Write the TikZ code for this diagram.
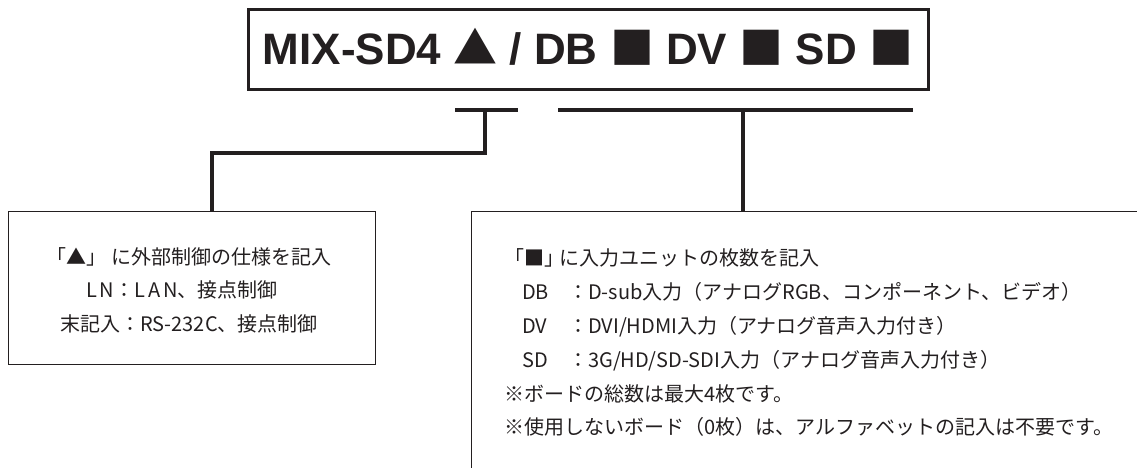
\documentclass[tikz,border=0pt]{standalone}
\usepackage{fontspec}
\setmainfont{Noto Sans CJK JP}
\newfontfamily\codefont{Liberation Sans}
\newfontfamily\jpfont{Noto Sans CJK JP}
\usetikzlibrary{positioning}

\definecolor{ink}{HTML}{231F20}
\newcommand{\tracked}[1]{{\addfontfeature{LetterSpace=15}#1}}
\newcommand{\unitrow}[2]{\makebox[46pt][l]{#1}：#2}
\newcommand{\codemark}[1]{{\jpfont\fontsize{44}{50}\selectfont #1}}

\tikzset{
  codebox/.style={draw=ink, line width=3pt, minimum width=680pt, minimum height=80pt,
    text=ink, text height=30pt, text depth=0pt,
    font=\codefont\fontsize{44}{50}\selectfont\bfseries},
  infobox/.style={draw=ink, line width=1.4pt, anchor=north west},
  bar/.style={draw=ink, line width=3.5pt},
  note/.style={text=ink, font=\fontsize{20}{24}\selectfont, inner sep=0pt}
}

\begin{document}
\begin{tikzpicture}[x=1pt,y=-1pt]
  \useasboundingbox (0,0) rectangle (1137,468);
  \clip (0,0) rectangle (1137,468);

  % model code
  \node[codebox] (code) at (588,50) {MIX-SD4 \codemark{▲} / DB \codemark{■} DV \codemark{■} SD \codemark{■}};

  % boxes
  \node[infobox, minimum width=367pt, minimum height=153pt] (ctrl) at (8,211) {};
  \node[infobox, minimum width=700pt, minimum height=290pt] (units) at (471,211) {};

  % brackets under the code
  \coordinate (ctrlbar-l) at (455,110);
  \coordinate (ctrlbar-r) at (518,110);
  \coordinate (ctrlbar-m) at (485,110);
  \coordinate (unitbar-l) at (558,110);
  \coordinate (unitbar-r) at (913,110);
  \coordinate (unitbar-m) at (743,110);
  \draw[bar] (ctrlbar-l) -- (ctrlbar-r);
  \draw[bar] (unitbar-l) -- (unitbar-r);
  \draw[bar] (ctrlbar-m) -- ++(0,43) -| ([xshift=204pt]ctrl.north west);
  \draw[bar] (unitbar-m) -- (unitbar-m |- units.north);

  % control options
  \node[note, anchor=base] (ctrl-1) at (189,264) {「▲」 に外部制御の仕様を記入};
  \node[note, anchor=base] (ctrl-2) at (182,297) {\tracked{LN}：\tracked{LAN}、接点制御};
  \node[note, anchor=base] (ctrl-3) at (189,331) {末記入：RS-232C、接点制御};

  % input units
  \node[note, anchor=base west] (unit-1) at (504,265) {「■」\kern-5pt に入力ユニットの枚数を記入};
  \node[note, anchor=base west] (unit-2) at (522,299) {\unitrow{DB}{D-sub入力（アナログRGB、コンポーネント、ビデオ）}};
  \node[note, anchor=base west] (unit-3) at (522,333) {\unitrow{DV}{DVI/HDMI入力（アナログ音声入力付き）}};
  \node[note, anchor=base west] (unit-4) at (522,367) {\unitrow{SD}{3G/HD/SD-SDI入力（アナログ音声入力付き）}};
  \node[note, anchor=base west] (unit-5) at (504,401) {※ボードの総数は最大4枚です。};
  \node[note, anchor=base west] (unit-6) at (504,434) {※使用しないボード（0枚）は、アルファベットの記入は不要です。};
\end{tikzpicture}
\end{document}
